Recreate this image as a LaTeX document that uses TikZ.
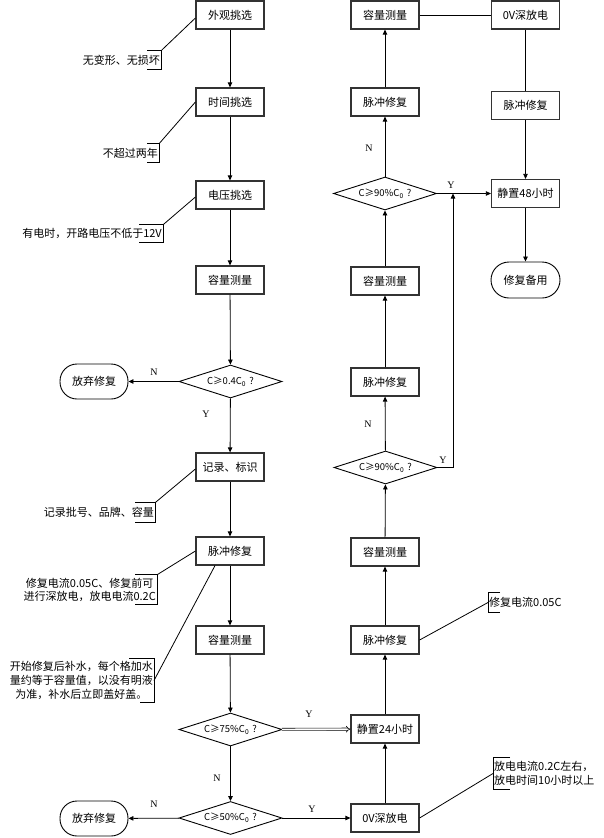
\documentclass[tikz,border=0pt]{standalone}
\usepackage{fontspec}
\setmainfont{Liberation Serif}
\newfontfamily\cjk{Noto Sans CJK SC}
\usetikzlibrary{shapes.geometric,arrows.meta}
\begin{document}
\begin{tikzpicture}[x=1pt,y=-1pt,
  font=\cjk\fontsize{11}{13}\selectfont,
  box/.style={draw=black!80, line width=1.2pt, minimum width=68pt, minimum height=28pt, inner sep=0pt, fill=white},
  term/.style={draw=black, line width=0.9pt, rounded corners=17pt, minimum width=68pt, minimum height=35pt, inner sep=0pt},
  dec/.style={draw=black, line width=0.9pt, diamond, aspect=3.1, minimum width=103pt, minimum height=33pt, inner sep=0pt, font=\cjk\fontsize{9.5}{11}\selectfont},
  arr/.style={-{Triangle[length=5pt,width=4.5pt]}, line width=0.8pt},
  ln/.style={line width=0.8pt},
  note/.style={inner sep=1pt, align=center, font=\cjk\fontsize{11}{14}\selectfont},
  brk/.style={line width=0.8pt},
  lbl/.style={font=\fontsize{10}{12}\selectfont}
]
\useasboundingbox (0,0) rectangle (604,838);

% left column
\node[box] (a1) at (230,15) {外观挑选};
\node[box] (a2) at (230,102) {时间挑选};
\node[box] (a3) at (230,195) {电压挑选};
\node[box] (a4) at (230,280) {容量测量};
\node[dec] (d1) at (230.5,381.5) {C≥0.4C\textsubscript{0}\,\,?};
\node[term] (s1) at (94,381.5) {放弃修复};
\node[box] (a5) at (230,467) {记录、标识};
\node[box] (a6) at (230,551) {脉冲修复};
\node[box] (a7) at (230,640) {容量测量};
\node[dec] (d2) at (230.5,729.5) {C≥75\%C\textsubscript{0}\,\,?};
\node[dec] (d3) at (230.5,818) {C≥50\%C\textsubscript{0}\,\,?};
\node[term] (s2) at (94,818.5) {放弃修复};

% middle column
\node[box] (b1) at (385,818) {0V深放电};
\node[box] (b2) at (385,729) {静置24小时};
\node[box] (b3) at (385,640) {脉冲修复};
\node[box] (b4) at (385,552) {容量测量};
\node[dec] (d4) at (385.5,467.5) {C≥90\%C\textsubscript{0}\,\,?};
\node[box] (b5) at (385,382) {脉冲修复};
\node[box] (b6) at (385,281) {容量测量};
\node[dec] (d5) at (385,193.5) {C≥90\%C\textsubscript{0}\,\,?};
\node[box] (b7) at (385,102) {脉冲修复};
\node[box] (b8) at (385,15) {容量测量};

% right column
\node[box] (c1) at (525.5,15) {0V深放电};
\node[box] (c2) at (525.5,105.5) {脉冲修复};
\node[box] (c3) at (525.5,193.5) {静置48小时};
\node[term, minimum width=69pt, minimum height=36pt, rounded corners=18pt] (c4) at (525.5,280) {修复备用};

% left connectors
\draw[arr] (a1) -- (a2);
\draw[arr] (a2) -- (a3);
\draw[arr] (a3) -- (a4);
\draw[arr] (a4) -- (d1);
\draw[arr] (d1) -- (s1);
\node[lbl] (n1) at (154,372) {N};
\draw[arr] (d1) -- (a5);
\node[lbl] (y1) at (206,414) {Y};
\draw[arr] (a5) -- (a6);
\draw[arr] (a6) -- (a7);
\draw[arr] (a7) -- (d2);
\draw[arr] (d2) -- (d3);
\node[lbl] (n2) at (217,778) {N};
\draw[arr] (d3) -- (s2);
\node[lbl] (n3) at (154,804) {N};
\draw[arr] (d3) -- (b1);
\node[lbl] (y2) at (312,809) {Y};
\draw[double, double distance=1.6pt, line width=0.6pt, -{Implies}] (d2) -- (b2);
\node[lbl] (y3) at (309,714) {Y};

% middle connectors
\draw[arr] (b1) -- (b2);
\draw[arr] (b2) -- (b3);
\draw[arr] (b3) -- (b4);
\draw[arr] (b4) -- (d4);
\draw[arr] (d4) -- (b5);
\node[lbl] (n4) at (368,424) {N};
\draw[arr] (b5) -- (b6);
\draw[arr] (b6) -- (d5);
\draw[arr] (d5) -- (b7);
\node[lbl] (n5) at (369,148) {N};
\draw[arr] (b7) -- (b8);
\draw[ln] (b8) -- (c1);
\draw[ln] (c1) -- (c2);
\draw[arr] (c2) -- (c3);
\draw[arr] (d5) -- (c3);
\node[lbl] (y4) at (451,185) {Y};
\draw[arr] (c3) -- (c4);
\coordinate (j) at (453,193.5);
\draw[arr] (d4.east) -| (j);
\node[lbl] (y5) at (443,460) {Y};

% annotations
\node[note, anchor=east, minimum height=18pt] (t1) at (161,60) {无变形、无损坏};
\draw[brk] ([xshift=-14pt]t1.north east) -- (t1.north east) -- (t1.south east) -- ([xshift=-14pt]t1.south east);
\draw[ln] (t1.north east) -- ([yshift=-3pt]a1.west);

\node[note, anchor=east, minimum height=18pt] (t2) at (159,153) {不超过两年};
\draw[brk] ([xshift=-12pt]t2.north east) -- (t2.north east) -- (t2.south east) -- ([xshift=-12pt]t2.south east);
\draw[ln] (t2.north east) -- (a2.west);

\node[note, anchor=east, minimum height=17pt] (t3) at (163,233.5) {有电时，开路电压不低于12V};
\draw[brk] ([xshift=-24pt]t3.north east) -- (t3.north east) -- (t3.south east) -- ([xshift=-24pt]t3.south east);
\draw[ln] (t3.north east) -- ([yshift=-2pt]a3.west);

\node[note, anchor=east, minimum height=19pt] (t4) at (155,512.5) {记录批号、品牌、容量};
\draw[brk] ([xshift=-20pt]t4.north east) -- (t4.north east) -- (t4.south east) -- ([xshift=-20pt]t4.south east);
\draw[ln] (t4.north east) -- ([yshift=-2pt]a5.west);

\node[note, anchor=east, minimum height=29pt, font=\cjk\fontsize{11}{13}\selectfont] (t5) at (157,589.5) {修复电流0.05C、修复前可\\进行深放电，放电电流0.2C};
\draw[brk] ([xshift=-22pt]t5.north east) -- (t5.north east) -- (t5.south east) -- ([xshift=-22pt]t5.south east);
\draw[ln] (t5.north east) -- (a6.west);

\node[note, anchor=east, minimum height=43pt, font=\cjk\fontsize{11}{14}\selectfont] (t6) at (154,680.5) {开始修复后补水，每个格加水\\量约等于容量值，以没有明液\\为准，补水后立即盖好盖。};
\draw[brk] ([xshift=-25pt]t6.north east) -- (t6.north east) -- (t6.south east) -- ([xshift=-14pt]t6.south east);
\draw[ln] ([xshift=-15pt]a6.south) -- (t6.east);

\node[note, anchor=west, minimum height=19pt] (t7) at (488,602.5) {修复电流0.05C};
\draw[brk] ([xshift=12pt]t7.north west) -- (t7.north west) -- (t7.south west) -- ([xshift=12pt]t7.south west);
\draw[ln] (b3.east) -- (t7.west);

\node[note, anchor=west, minimum height=31pt, align=left, font=\cjk\fontsize{11}{14}\selectfont] (t8) at (493,773.5) {放电电流0.2C左右，\\放电时间10小时以上};
\draw[brk] ([xshift=17pt]t8.north west) -- (t8.north west) -- (t8.south west) -- ([xshift=17pt]t8.south west);
\draw[ln] (b1.east) -- (t8.west);
\end{tikzpicture}
\end{document}
